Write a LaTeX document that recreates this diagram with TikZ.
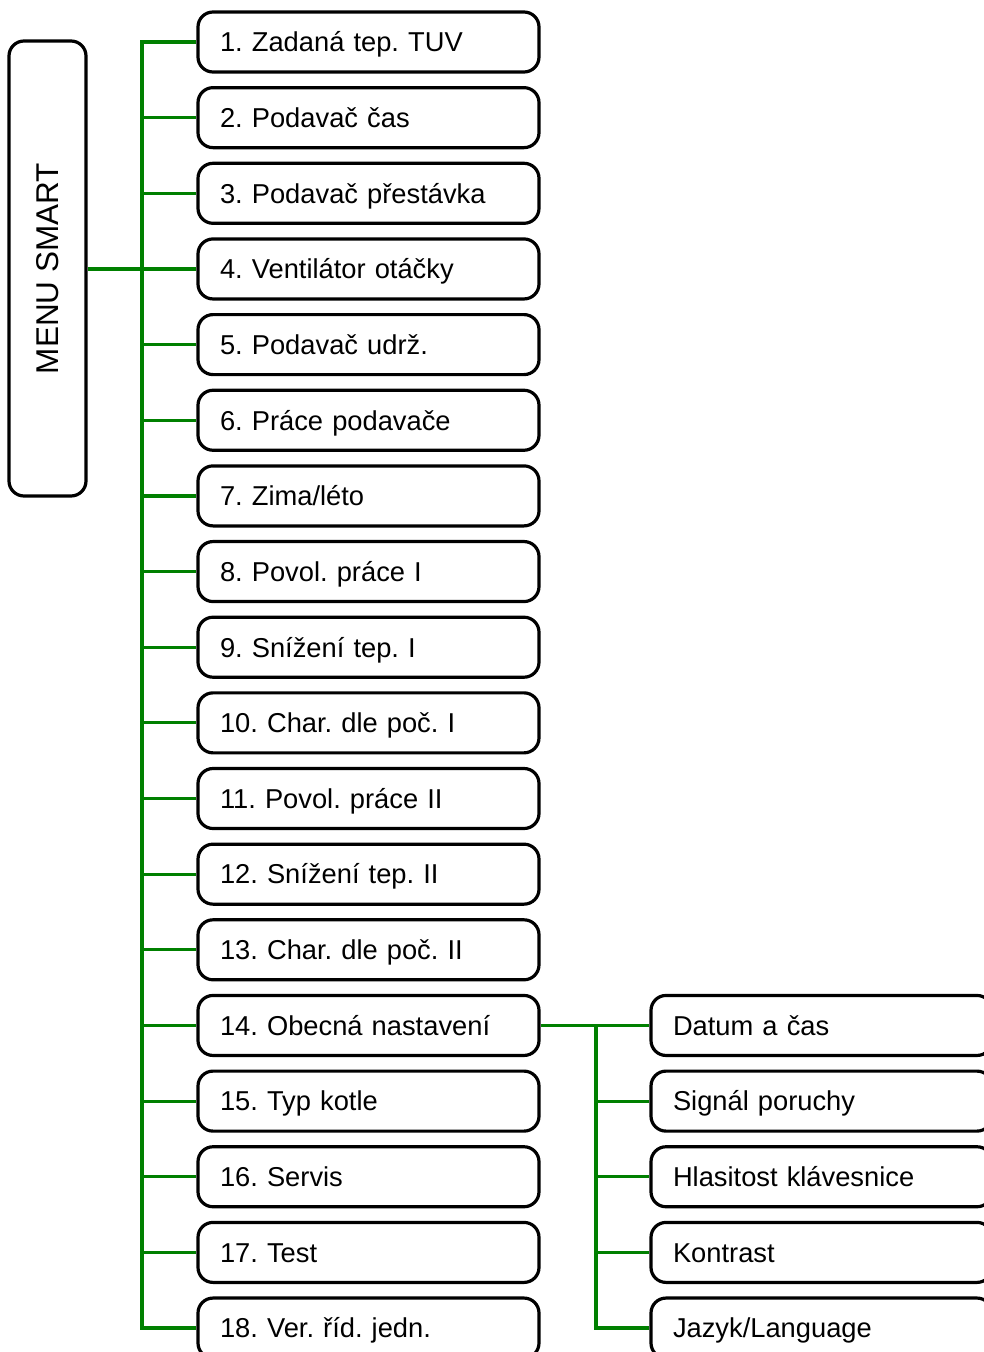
\documentclass[tikz,border=0pt]{standalone}
\usepackage{fontspec}
\setmainfont{Liberation Sans}
\frenchspacing

\tikzset{
    item/.style={draw, line width=3.2pt, rounded corners=15pt, minimum width=341pt,
        minimum height=60pt, text width=297pt, inner xsep=22pt, align=left,
        text height=19.6pt, text depth=0pt, font=\fontsize{27.3}{33}\selectfont},
    menubox/.style={draw, line width=3.2pt, rounded corners=15pt, minimum width=455pt,
        minimum height=77pt, rotate=90, text height=22.5pt, text depth=0pt,
        font=\fontsize{31.5}{36}\selectfont},
    link/.style={draw, line width=3.2pt, color={rgb,255:red,0; green,128; blue,0}}
}

\begin{document}
\begin{tikzpicture}[x=1pt, y=-1pt]

        % Page frame
        \useasboundingbox (0,0) rectangle (983,1352);

        % Main menu
        \node[menubox] (menu) at (47.5,268.5) {MENU SMART};

        % Items of the main menu
        \node[item] (b1) at (368.5,42) {1. Zadaná tep. TUV};
        \node[item] (b2) at (368.5,117.65) {2. Podavač čas};
        \node[item] (b3) at (368.5,193.3) {3. Podavač přestávka};
        \node[item] (b4) at (368.5,268.95) {4. Ventilátor otáčky};
        \node[item] (b5) at (368.5,344.6) {5. Podavač udrž.};
        \node[item] (b6) at (368.5,420.25) {6. Práce podavače};
        \node[item] (b7) at (368.5,495.9) {7. Zima/léto};
        \node[item] (b8) at (368.5,571.55) {8. Povol. práce I};
        \node[item] (b9) at (368.5,647.2) {9. Snížení tep. I};
        \node[item] (b10) at (368.5,722.85) {10. Char. dle poč. I};
        \node[item] (b11) at (368.5,798.5) {11. Povol. práce II};
        \node[item] (b12) at (368.5,874.15) {12. Snížení tep. II};
        \node[item] (b13) at (368.5,949.8) {13. Char. dle poč. II};
        \node[item] (b14) at (368.5,1025.45) {14. Obecná nastavení};
        \node[item] (b15) at (368.5,1101.1) {15. Typ kotle};
        \node[item] (b16) at (368.5,1176.75) {16. Servis};
        \node[item] (b17) at (368.5,1252.4) {17. Test};
        \node[item] (b18) at (368.5,1328.05) {18. Ver. říd. jedn.};

        % Items of the submenu
        \node[item] (s1) at (821.5,1025.45) {Datum a čas};
        \node[item] (s2) at (821.5,1101.1) {Signál poruchy};
        \node[item] (s3) at (821.5,1176.75) {Hlasitost klávesnice};
        \node[item] (s4) at (821.5,1252.4) {Kontrast};
        \node[item] (s5) at (821.5,1328.05) {Jazyk/Language};

        % Main tree
        \coordinate (j1) at (142,0);
        \draw[link, line width=4pt] (menu.south |- b4.west) -- (j1 |- b4.west);
        \draw[link] (b1.west) -- (j1 |- b1.west) -- (j1 |- b18.west) -- (b18.west);
        \draw[link] (j1 |- b2.west) -- (b2.west);
        \draw[link] (j1 |- b3.west) -- (b3.west);
        \draw[link] (j1 |- b4.west) -- (b4.west);
        \draw[link] (j1 |- b5.west) -- (b5.west);
        \draw[link] (j1 |- b6.west) -- (b6.west);
        \draw[link] (j1 |- b7.west) -- (b7.west);
        \draw[link] (j1 |- b8.west) -- (b8.west);
        \draw[link] (j1 |- b9.west) -- (b9.west);
        \draw[link] (j1 |- b10.west) -- (b10.west);
        \draw[link] (j1 |- b11.west) -- (b11.west);
        \draw[link] (j1 |- b12.west) -- (b12.west);
        \draw[link] (j1 |- b13.west) -- (b13.west);
        \draw[link] (j1 |- b14.west) -- (b14.west);
        \draw[link] (j1 |- b15.west) -- (b15.west);
        \draw[link] (j1 |- b16.west) -- (b16.west);
        \draw[link] (j1 |- b17.west) -- (b17.west);

        % Sub tree
        \coordinate (j2) at (596,0);
        \draw[link] (b14.east) -- (s1.west);
        \draw[link] (j2 |- s1.west) -- (j2 |- s5.west) -- (s5.west);
        \draw[link] (j2 |- s2.west) -- (s2.west);
        \draw[link] (j2 |- s3.west) -- (s3.west);
        \draw[link] (j2 |- s4.west) -- (s4.west);

    \end{tikzpicture}
\end{document}
